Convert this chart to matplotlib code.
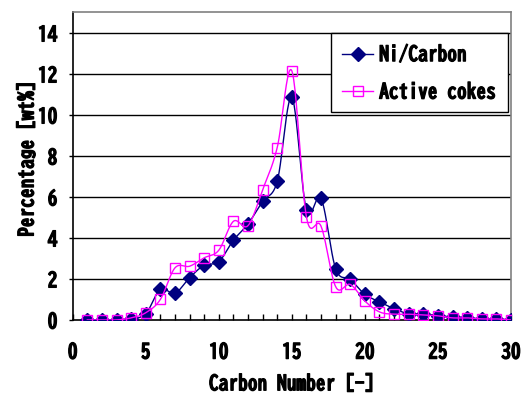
import numpy as np
import matplotlib
matplotlib.use("Agg")
import matplotlib.pyplot as plt
import matplotlib.patheffects as pe
from matplotlib import font_manager
from matplotlib.ticker import MultipleLocator

carbon = list(range(1, 31))
ni_carbon = [0, 0, 0, 0.05, 0.3, 1.49, 1.3, 2.06, 2.67, 2.84, 3.89, 4.68, 5.79, 6.76,
             10.86, 5.35, 5.93, 2.5, 1.98, 1.25, 0.88, 0.55, 0.3, 0.3, 0.2, 0.15, 0.1,
             0.05, 0.05, 0.0]
active_cokes = [0, 0, 0, 0.1, 0.35, 1.0, 2.54, 2.62, 3.03, 3.4, 4.81, 4.6, 6.35, 8.41,
                12.15, 5.02, 4.57, 1.62, 1.73, 0.92, 0.39, 0.28, 0.28, 0.24, 0.2, 0.1,
                0.1, 0.05, 0.05, 0.0]
series_names = ["Ni/Carbon", "Active cokes"]
x_label = "Carbon Number [-]"
y_label = "Percentage [wt%]"

names = {f.name for f in font_manager.fontManager.ttflist}
fam = "BIZ UDGothic" if "BIZ UDGothic" in names else "DejaVu Sans"
plt.rcParams["font.family"] = [fam, "DejaVu Sans"]
plt.rcParams["font.weight"] = "bold"
bold = [pe.withStroke(linewidth=0.9, foreground="black")]


def smooth(x, y, n=24):
    x = np.asarray(x, float)
    y = np.asarray(y, float)
    px = np.concatenate([[x[0]], x, [x[-1]]])
    py = np.concatenate([[y[0]], y, [y[-1]]])
    xs, ys = [], []
    for i in range(1, len(px) - 2):
        p0x, p1x, p2x, p3x = px[i - 1], px[i], px[i + 1], px[i + 2]
        p0y, p1y, p2y, p3y = py[i - 1], py[i], py[i + 1], py[i + 2]
        c1x = p1x + (p2x - p0x) / 6
        c1y = p1y + (p2y - p0y) / 6
        c2x = p2x - (p3x - p1x) / 6
        c2y = p2y - (p3y - p1y) / 6
        t = np.linspace(0, 1, n, endpoint=(i == len(px) - 3))
        b0 = (1 - t) ** 3
        b1 = 3 * (1 - t) ** 2 * t
        b2 = 3 * (1 - t) * t ** 2
        b3 = t ** 3
        xs.append(b0 * p1x + b1 * c1x + b2 * c2x + b3 * p2x)
        ys.append(b0 * p1y + b1 * c1y + b2 * c2y + b3 * p2y)
    return np.concatenate(xs), np.concatenate(ys)


fig = plt.figure(figsize=(5.23, 3.94), dpi=100)
ax = fig.add_axes([0.139, 0.188, 0.838, 0.7815])

navy = "#000080"
mag = "#ff00ff"

sx, sy = smooth(carbon, ni_carbon)
ax.plot(sx, sy, color=navy, lw=1.0, zorder=3)
ax.plot(carbon, ni_carbon, ls="none", marker="D", ms=7, color=navy, zorder=4)
sx2, sy2 = smooth(carbon, active_cokes)
ax.plot(sx2, sy2, color=mag, lw=1.0, zorder=5)
ax.plot(carbon, active_cokes, ls="none", marker="s", ms=7, mfc="none", mec=mag,
        mew=1.0, zorder=6)

h1, = ax.plot([], [], color=navy, lw=1.0, marker="D", ms=7)
h2, = ax.plot([], [], color=mag, lw=1.0, marker="s", ms=7, mfc="none", mec=mag)

ax.set_xlim(0, 30)
ax.set_ylim(0, 15.02)
ax.set_yticks(np.arange(0, 15, 2))
ax.xaxis.set_major_locator(MultipleLocator(5))
ax.xaxis.set_minor_locator(MultipleLocator(1))
for yv in np.arange(2, 15, 2):
    ax.axhline(yv, color="black", lw=1.0, zorder=1)

for s in ["left", "bottom"]:
    ax.spines[s].set_color("black")
    ax.spines[s].set_linewidth(1.2)
for s in ["top", "right"]:
    ax.spines[s].set_color("#808080")
    ax.spines[s].set_linewidth(1.2)

ax.tick_params(axis="x", which="both", direction="in", length=4, width=1,
               labelsize=14, pad=16)
ax.tick_params(axis="y", which="both", direction="out", length=3, width=1,
               labelsize=14, pad=8)

ax.set_xlabel(x_label, fontsize=14, fontweight="bold")
ax.set_ylabel(y_label, fontsize=14, fontweight="bold")
ax.xaxis.set_label_coords(0.5, -0.175)
ax.yaxis.set_label_coords(-0.086, 0.523)

leg = ax.legend([h1, h2], series_names, loc="upper right",
                bbox_to_anchor=(0.993, 0.932), borderaxespad=0, fancybox=False,
                framealpha=1, edgecolor="black", fontsize=14, handlelength=1.6,
                labelspacing=1.0, handletextpad=0.3, borderpad=0.6)
leg.get_frame().set_linewidth(1.0)
leg.set_zorder(10)

for t in (ax.get_xticklabels() + ax.get_yticklabels() + leg.get_texts()
          + [ax.xaxis.label, ax.yaxis.label]):
    t.set_path_effects(bold)

fig.savefig("out.png", dpi=100)
